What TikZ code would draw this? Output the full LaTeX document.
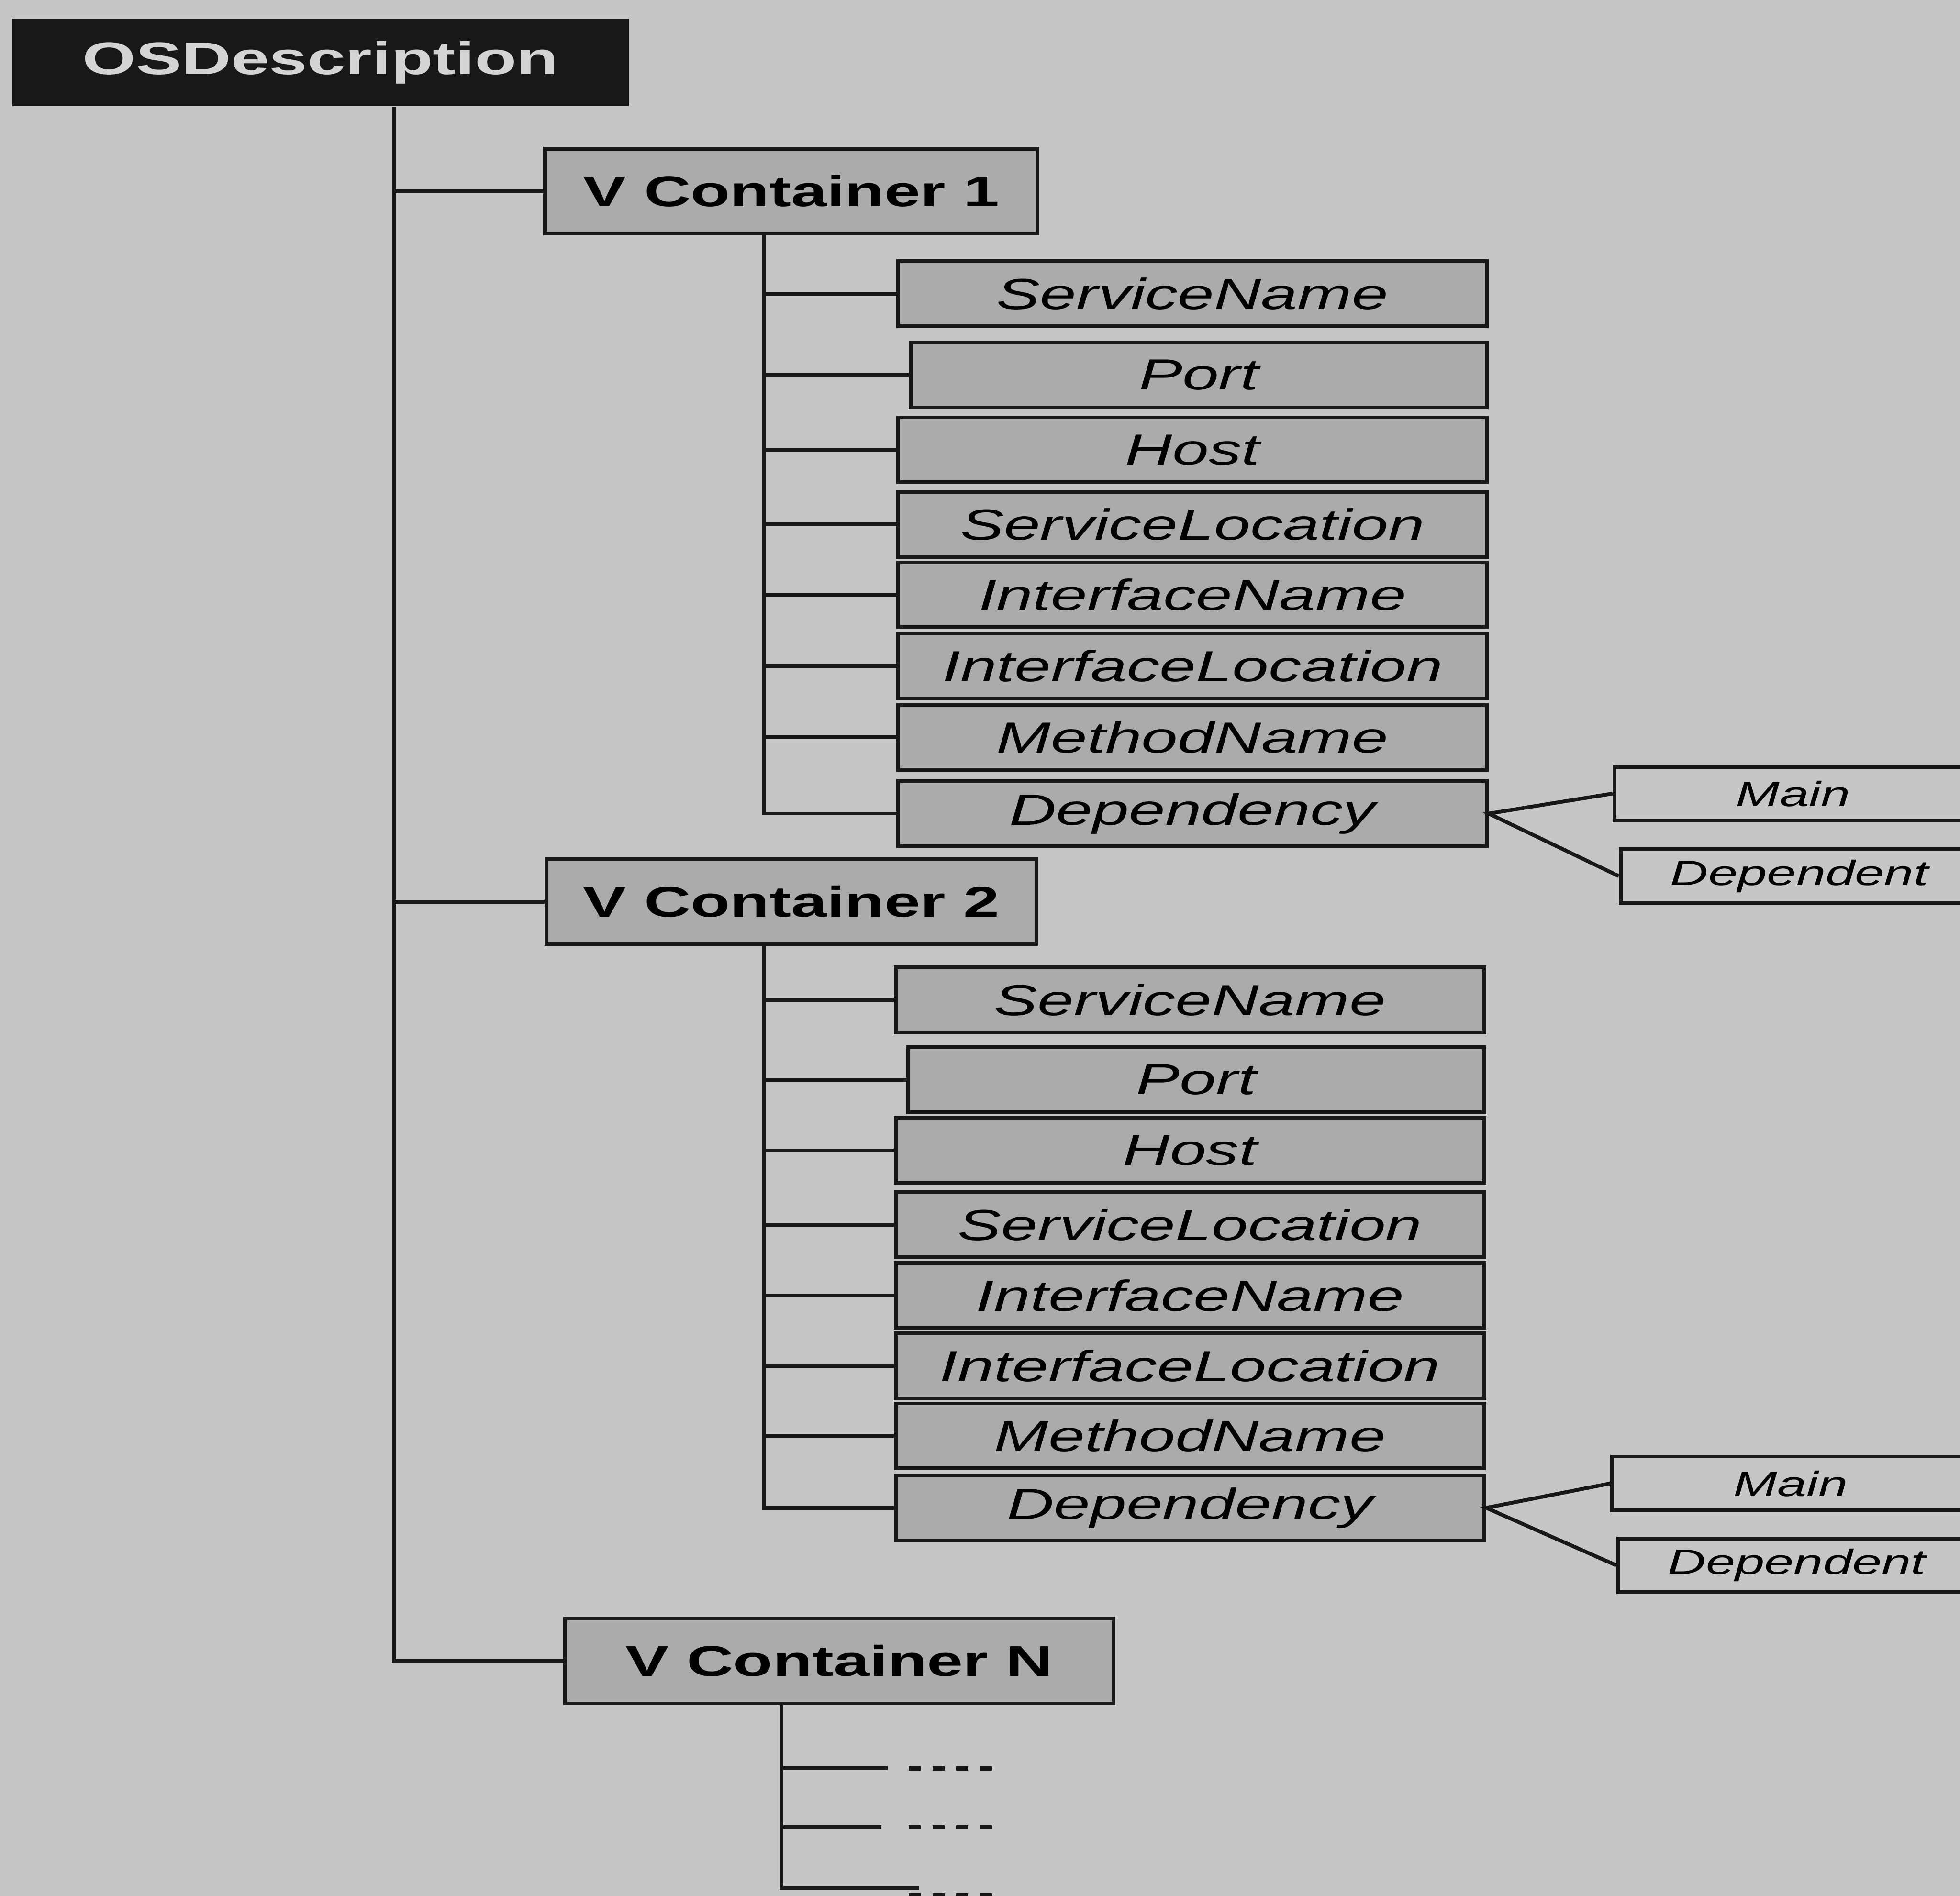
\documentclass[tikz,border=0pt]{standalone}
\usepackage{fontspec}
\setmainfont{Liberation Sans}[FakeStretch=1.5]
\usepackage{tikz}
\usetikzlibrary{positioning, calc}
\definecolor{cPage}    {HTML}{C6C6C6}
\definecolor{cBoxFill} {HTML}{ABABAB}
\definecolor{cInk}     {HTML}{181818}
\definecolor{cHeadText}{HTML}{D4D4D4}

\begin{document}
\begin{tikzpicture}[x=1mm, y=-1mm,
    link/.style={draw=cInk, line width=0.85pt},
    dashrow/.style={draw=cInk, line width=1pt, dash pattern=on 0.95mm off 0.95mm},
    head/.style={fill=cInk, text=cHeadText, minimum width=49.3mm, minimum height=7mm,
                 inner sep=0pt, font=\fontsize{10.4}{12}\selectfont\bfseries},
    contbox/.style={draw=cInk, fill=cBoxFill, line width=0.85pt, minimum height=6.8mm,
                 inner sep=0pt, font=\fontsize{9.8}{12}\selectfont\bfseries},
    field/.style={draw=cInk, fill=cBoxFill, line width=0.85pt, minimum height=5.2mm,
                 inner sep=0pt, anchor=east, font=\fontsize{9.9}{12}\selectfont\itshape},
    leaf/.style={draw=cInk, line width=0.85pt, minimum width=28.6mm, minimum height=4.3mm,
                 inner sep=0pt, anchor=west, font=\fontsize{8}{10}\selectfont\itshape}]
  \useasboundingbox (0,0) rectangle (156.8,151.7);
  \clip (0,0) rectangle (156.8,151.7);
  \fill[cPage] (0,0) rectangle (156.8,151.7);

  % root and the containers
  \node[head] (osd) at (25.65,5.0) {OSDescription};
  \node[contbox, minimum width=39.4mm] (vc1) at (63.3,15.3) {V Container 1};
  \node[contbox, minimum width=39.2mm] (vc2) at (63.3,72.15) {V Container 2};
  \node[contbox, minimum width=43.9mm] (vcN) at (67.15,132.9) {V Container N};

  \coordinate (r)  at (31.5,0);
  \coordinate (t1) at (61.1,0);
  \coordinate (t2) at (61.1,0);
  \coordinate (tN) at (62.5,0);

  \draw[link] (osd.south -| r) |- (vcN.west);
  \draw[link] (r |- vc1.west) -- (vc1.west);
  \draw[link] (r |- vc2.west) -- (vc2.west);

  % fields of container 1 and 2
  \foreach \k/\lbl/\w/\ya/\yb in {
      sname/ServiceName/47.1/23.5/80.0,
      port/Port/46.1/30.0/86.4,
      host/Host/47.1/36.0/92.05,
      sloc/ServiceLocation/47.1/41.95/98.0,
      iname/InterfaceName/47.1/47.6/103.65,
      iloc/InterfaceLocation/47.1/53.3/109.3,
      mname/MethodName/47.1/59.0/114.9,
      dep/Dependency/47.1/65.1/120.65}{
    \node[field, minimum width=\w mm] (\k1) at (119.1,\ya) {\lbl};
    \node[field, minimum width=\w mm] (\k2) at (118.9,\yb) {\lbl};
    \draw[link] (t1 |- \k1.west) -- (\k1.west);
    \draw[link] (t2 |- \k2.west) -- (\k2.west);
  }
  \draw[link] (vc1.south -| t1) |- (dep1.west);
  \draw[link] (vc2.south -| t2) |- (dep2.west);

  % dependency split
  \node[leaf] (main1) at (129.0,63.5) {Main};
  \node[leaf] (dept1) at (129.5,70.1) {Dependent};
  \draw[link] (main1.west) -- (dep1.east) -- (dept1.west);
  \node[leaf] (main2) at (128.8,118.7) {Main};
  \node[leaf] (dept2) at (129.3,125.25) {Dependent};
  \draw[link] (main2.west) -- (dep2.east) -- (dept2.west);

  % container N, items left open
  \coordinate (nA) at (71.0,141.5);
  \coordinate (nB) at (70.5,146.2);
  \coordinate (nC) at (73.5,151.05);
  \draw[link] (vcN.south -| tN) |- (nC);
  \draw[link] (tN |- nA) -- (nA);
  \draw[link] (tN |- nB) -- (nB);
  \coordinate (dA0) at (72.7,141.5);  \coordinate (dA1) at (80.2,141.5);
  \coordinate (dB0) at (72.7,146.2);  \coordinate (dB1) at (80.2,146.2);
  \coordinate (dC0) at (72.7,151.65); \coordinate (dC1) at (80.2,151.65);
  \draw[dashrow] (dA0) -- (dA1);
  \draw[dashrow] (dB0) -- (dB1);
  \draw[dashrow] (dC0) -- (dC1);
\end{tikzpicture}
\end{document}
